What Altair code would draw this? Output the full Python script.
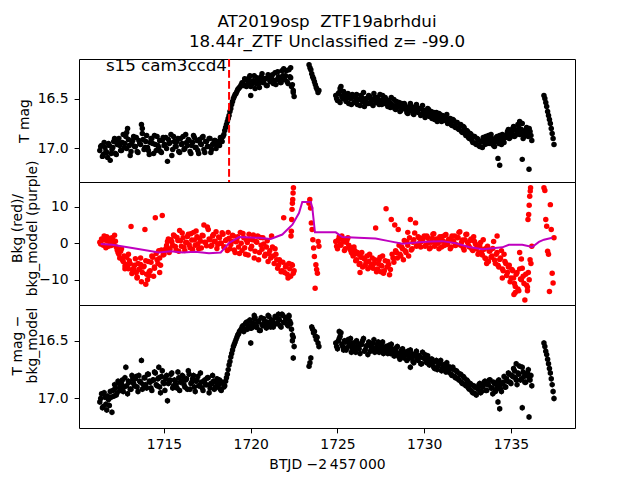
import altair as alt
import numpy as np
import pandas as pd

# ---------------- data ----------------
# Each light-curve segment: (start, end) time and the values along it.
# "A2"/"C2" lists are the interleaved second half of the cadences of segments A and C.

# Panel 1: T mag
MAG_A_SPAN = (1711.3, 1722.5)
MAG_A = [17.02, 16.97, 17.06, 16.99, 17.04, 16.95, 17.12, 17.01, 16.93, 17.05,
         16.96, 16.90, 17.02, 16.94, 16.99, 16.88, 16.80, 16.97, 17.03, 16.92,
         16.98, 16.89, 17.04, 16.95, 16.76, 16.91, 16.99, 16.87, 17.02, 16.94,
         16.90, 17.05, 16.96, 16.88, 16.99, 17.03, 16.92, 16.97, 16.89, 17.13,
         16.95, 16.86, 17.01, 16.93, 16.98, 16.90, 17.04, 16.96, 16.88, 17.00,
         16.94, 16.91, 17.03, 16.97, 16.87, 16.99, 16.92, 17.05, 16.95, 16.89,
         17.01, 16.93, 16.98, 16.90, 17.04, 16.96, 16.92, 17.00, 16.94, 16.97,
         16.91, 16.88, 16.82, 16.76, 16.70, 16.63, 16.56, 16.50, 16.46, 16.43,
         16.40, 16.38, 16.34, 16.37, 16.31, 16.36, 16.29, 16.38, 16.33, 16.27,
         16.35, 16.31, 16.39, 16.28, 16.34, 16.30, 16.37, 16.26, 16.32, 16.29,
         16.35, 16.24, 16.31, 16.28, 16.34, 16.22, 16.30, 16.27, 16.33, 16.21,
         16.29, 16.36, 16.48]
MAG_A2_SPAN = (1711.35, 1722.45)
MAG_A2 = [16.98, 17.08, 16.94, 17.03, 17.09, 16.97, 17.05,
          16.99, 16.90, 17.06, 16.93, 16.97, 17.02, 16.86, 16.95, 17.00, 16.91,
          17.07, 16.94, 16.88, 16.98, 17.03, 16.92, 16.96, 16.85, 17.01, 16.93,
          16.99, 17.06, 16.90, 16.95, 16.87, 17.02, 16.97, 16.92, 17.04, 16.89,
          16.96, 17.00, 16.91, 16.94, 17.07, 16.88, 16.98, 16.93, 17.03, 16.90,
          16.95, 17.01, 16.86, 16.97, 16.92, 17.05, 16.94, 16.89, 16.99, 17.02,
          16.91, 16.96, 16.88, 17.04, 16.93, 16.98, 16.90, 17.01, 16.95, 16.92,
          16.97, 16.93, 16.89,
          16.93, 16.86, 16.79, 16.73, 16.67, 16.60, 16.53, 16.48, 16.45, 16.41,
          16.39, 16.36, 16.35,
          16.30, 16.38, 16.33, 16.27, 16.36, 16.32, 16.40, 16.29, 16.35, 16.31,
          16.25, 16.34, 16.30, 16.37, 16.28, 16.33, 16.26, 16.32, 16.36, 16.23,
          16.30, 16.34, 16.27, 16.31, 16.22, 16.35, 16.28, 16.38, 16.44]
MAG_B_SPAN = (1723.36, 1723.93)
MAG_B = [16.16, 16.19, 16.21, 16.25, 16.28, 16.30, 16.33, 16.36, 16.39, 16.41, 16.44, 16.42]
MAG_C_SPAN = (1724.9, 1736.2)
MAG_C = [16.47, 16.52, 16.44, 16.38, 16.50, 16.46, 16.53, 16.45, 16.49, 16.56,
         16.48, 16.53, 16.46, 16.51, 16.57, 16.49, 16.44, 16.54, 16.50, 16.47,
         16.55, 16.51, 16.45, 16.53, 16.49, 16.56, 16.52, 16.47, 16.55, 16.51,
         16.58, 16.54, 16.49, 16.57, 16.60, 16.53, 16.58, 16.63, 16.55, 16.60,
         16.57, 16.64, 16.59, 16.55, 16.62, 16.66, 16.58, 16.63, 16.60, 16.67,
         16.57, 16.62, 16.65, 16.60, 16.68, 16.63, 16.66, 16.71, 16.64, 16.69,
         16.66, 16.73, 16.68, 16.71, 16.66, 16.74, 16.70, 16.77, 16.72, 16.79,
         16.74, 16.81, 16.76, 16.84, 16.79, 16.87, 16.83, 16.90, 16.86, 16.94,
         16.88, 16.96, 16.91, 16.98, 16.93, 16.89, 16.96, 16.92, 16.87, 16.95,
         16.90, 16.97, 16.93, 16.88, 16.95, 16.91, 16.86, 16.94, 16.89, 16.83,
         16.90, 16.85, 16.80, 16.88, 16.82, 16.76, 16.86, 16.81, 16.90, 16.84,
         16.79, 16.88, 16.83, 16.92]
MAG_C2_SPAN = (1724.95, 1736.15)
MAG_C2 = [16.50, 16.45, 16.54, 16.48, 16.43, 16.51, 16.47, 16.55, 16.50, 16.46,
          16.54, 16.49, 16.56, 16.51, 16.47, 16.53, 16.58, 16.50, 16.55, 16.48,
          16.52, 16.57, 16.49, 16.54, 16.51, 16.46, 16.56, 16.52, 16.49,
          16.55, 16.52, 16.59, 16.56, 16.51, 16.61, 16.57, 16.54, 16.62, 16.58,
          16.55, 16.61, 16.65,
          16.62, 16.58, 16.65, 16.61, 16.56, 16.64, 16.60, 16.66, 16.62, 16.69,
          16.64, 16.61,
          16.66, 16.70, 16.64, 16.68, 16.73, 16.65, 16.70, 16.67, 16.72, 16.69, 16.75,
          16.72, 16.76, 16.71, 16.78, 16.74, 16.80, 16.77, 16.83, 16.78, 16.85,
          16.82, 16.89, 16.85, 16.92, 16.88, 16.95, 16.90, 16.97, 16.93, 16.99,
          16.92, 16.88, 16.95, 16.90, 16.86, 16.94, 16.98, 16.89, 16.93, 16.87,
          16.96, 16.91, 16.88,
          16.86, 16.81, 16.89, 16.84, 16.78, 16.87, 16.83, 16.79, 16.85, 16.75,
          16.88, 16.82, 16.86, 16.80, 16.87]
MAG_D_SPAN = (1736.9, 1737.48)
MAG_D = [16.47, 16.50, 16.54, 16.58, 16.63, 16.67, 16.71, 16.75, 16.80, 16.85, 16.90, 16.96]
MAG_EXTRA_T = [1720.0, 1722.45, 1713.75, 1712.85, 1721.9, 1722.3,
               1734.25, 1734.35, 1735.65, 1736.04, 1735.5, 1725.15]
MAG_EXTRA = [16.47, 16.42, 16.80, 16.84, 16.20, 16.19,
             17.10, 17.17, 17.11, 17.21, 16.73, 16.40]

# Panel 2: background flux (red points) and background model (purple line)
BKG_A_SPAN = (1711.3, 1722.5)
BKG_A = [0.3, 1.2, -0.5, 0.9, 1.8, -0.8, 0.4, 1.5, -0.3, 0.6,
         -1.8, -3.0, -2.2, -4.5, -3.5, -5.8, -6.5, -4.8, 4.6, -7.5,
         -6.0, -8.0, -5.5, -7.0, -10.5, -6.5, 3.8, -8.5, -5.0, -7.5,
         -3.5, -9.0, 7.0, -4.5, -2.0, -6.0, 7.6, -3.0, -1.5, 0.5,
         -2.5, 1.0, -0.5, 2.0, -1.8, 0.8, 3.5, -0.8, 1.5, -2.0,
         0.3, 2.5, -1.2, 0.9, 3.0, -0.5, 1.8, -1.5, 0.6, 2.2,
         5.0, 0.2, 4.5, 1.2, -0.8, 2.0, 0.5, 3.2, -0.3, 1.5,
         0.0, 2.5, -1.0, 1.0, 3.0, -1.5, 0.5, 2.0, -2.5, 0.8,
         -1.0, 3.0, -2.0, 1.5, -3.0, 0.2, 2.5, -1.5, 1.0, -4.0,
         0.5, 2.0, -2.5, -0.5, 1.5, -3.5, -1.0, -5.0, -2.0, 2.0,
         -3.5, -1.5, -4.5, -6.0, -5.0, -7.5, 7.0, -6.5, -8.5, -5.5,
         -9.0, -6.0, -7.5]
BKG_A2_SPAN = (1711.35, 1722.45)
BKG_A2 = [-0.2, 1.0, 2.0, -1.2, 0.6, 1.3, -0.6, 0.9, 2.2, -1.0,
          -2.5, -4.0, -1.5, -5.0, -6.2, -3.8, -7.0, -5.5, -8.3, -6.8,
          -4.2, -9.2, -7.2, -5.8, -8.0, -6.3, -4.8, -10.0, -7.8, -5.2,
          -3.8, -6.8, -2.8, -5.5, -4.0, -1.8, -3.2, -2.0,
          -0.6, 1.2, -1.5, 0.4, 2.3, -0.9, 1.6, -2.2, 0.7, 2.8,
          -1.1, 0.2, 1.9, -0.4, 2.6, -1.7, 0.9, 3.4, -0.2, 1.3,
          -1.3, 2.1, 0.3, -0.7, 3.8, 1.0, -0.5, 2.4, 0.6, -1.4,
          1.7, 0.1, 2.9, -1.0, 0.8, -2.0, 1.4, -0.3, 2.2, -1.8,
          0.4, 1.8, -2.8, 0.0, 2.7, -1.2, 0.9, -3.2, 1.1, -0.8,
          2.3, -2.2, 0.3, -4.5, 1.6, -1.6, -0.2, -3.0, 0.7,
          -2.8, -4.0, -1.0, -5.5, -3.0, -6.8, -4.5, -7.8, -5.2, -8.0,
          -6.0, -9.5, -7.0, -5.8, -8.2]
BKG_B_SPAN = (1723.36, 1723.93)
BKG_B = [11.0, 12.0, 9.7, 5.6, 3.8, 1.0, -1.3, -3.6, -12.3, -5.9, -7.2, -8.2, 0.5, -0.8]
BKG_C_SPAN = (1724.9, 1736.2)
BKG_C = [0.5, -1.5, 1.8, -0.5, 1.0, -2.0, 0.3, 1.5, -1.0, -2.5,
         -3.5, -2.0, -4.5, -3.0, -5.5, -2.5, -4.0, -6.0, -3.5, -5.0,
         -6.5, -4.0, -5.5, 4.2, -7.0, -4.5, -6.0, -3.5, -7.5, 9.5,
         -5.0, -8.6, 6.5, -4.0, 5.0, -2.5, 3.8, -3.0, -1.0, -4.5,
         -2.0, 0.5, -3.5, 6.5, -1.5, 1.0, 5.6, -0.5, 1.5, -1.0,
         0.8, 2.0, -0.5, 1.5, -1.5, 0.3, 2.5, -0.8, 1.2, 0.0,
         1.8, -1.0, 0.6, 2.2, -0.3, 1.0, -1.5, 2.0, 0.4, -0.6,
         1.5, 3.0, -0.5, 0.9, -1.8, 2.4, 0.2, -1.0, 1.2, -2.0,
         0.5, -1.5, -3.0, -0.8, -2.5, 1.0, -4.0, -1.2, -5.0, -2.0,
         -3.5, 0.5, -5.5, -2.5, -6.5, -4.0, -7.0, -3.0, -5.5, -8.0,
         -6.0, -9.5, -7.5, -11.0, -8.5, -12.5, -7.0, -10.0, -9.0, -15.5,
         -11.5, -8.0, -4.5, -0.8]
BKG_C2_SPAN = (1724.95, 1736.15)
BKG_C2 = [-0.8, 1.0, -0.2, 2.0, 0.4, -1.5, 0.9, -0.5, -1.8, -2.8,
          -3.0, -4.8, -2.5, -5.8, -3.8, -6.5, -4.2, -5.2, -7.0, -3.0, -5.8,
          -6.8, -4.5, -7.8, -5.5, -3.8, -6.2, -8.2, -4.8, -6.5, -5.8, -7.2,
          -3.0, -5.2, -2.0, -4.0, -0.5, -3.5, -1.5, 0.8, -2.5, -0.5, 1.5,
          -1.8, 0.3, 2.8, -0.8, 1.8, 0.2,
          0.5, 1.5, -0.8, 2.0, 0.2, -1.2, 1.3, 2.6, -0.2, 1.0, -1.5, 0.6,
          1.9, -0.6, 2.4, 0.1, 1.2, -1.0, 0.7, 2.0, -0.4, 1.6, 3.2, 0.3,
          -1.2, 1.0, 2.5, -0.6, 0.8, -1.6, 1.8, -0.2,
          -1.0, -2.6, 0.2, -3.2, -1.6, -4.2, -0.8, -2.2, -3.8, -1.4, -4.6,
          -3.0, -6.0, -4.4, -2.0, -7.5, -5.0, -8.8, -6.5, -10.5, -7.2, -9.5,
          -11.8, -8.0, -13.0, -9.8, -6.8, -11.0, -8.5, -12.0, -10.0, -5.5]
BKG_D_SPAN = (1736.9, 1737.48)
BKG_D = [15.2, 14.5, 6.5, 4.7, -2.2, -3.0, -13.2, 10.6, 3.8, -8.2, -10.9, 1.5]
BKG_EXTRA_T = [1713.45, 1713.95, 1714.15, 1712.75, 1713.65, 1714.45, 1714.75, 1712.95,
               1722.32, 1722.34, 1722.36, 1722.38, 1722.40, 1722.42, 1722.44, 1722.46,
               1735.17, 1735.25, 1735.5, 1735.6, 1734.2, 1726.3, 1727.5, 1725.95,
               1729.05, 1733.6, 1734.5, 1735.95,
               1735.98, 1736.02, 1736.05, 1736.08, 1736.11, 1736.13]
BKG_EXTRA = [-9.5, -11.2, -8.8, -7.0, -4.0, -6.5, -8.0, -3.0,
             2.0, 3.3, 6.5, 9.3, 11.0, 12.0, 13.8, 15.2,
             -14.0, -13.5, -2.5, -4.3, 2.0, -8.0, -7.8, -1.0,
             3.0, -5.5, -9.5, -13.0,
             6.5, 7.9, 10.4, 12.9, 14.3, 15.2]
MODEL_T = [1711.35, 1712.02, 1713.17, 1714.71, 1715.40, 1716.06, 1716.80, 1717.59,
           1718.27, 1718.75, 1719.32, 1720.48, 1721.15, 1721.82, 1722.40, 1722.78,
           1722.97, 1723.46, 1723.55, 1723.70, 1724.90, 1725.28, 1726.20, 1727.20,
           1727.97, 1728.74, 1729.70, 1730.40, 1731.04, 1731.81, 1732.58, 1733.35,
           1734.50, 1734.88, 1735.65, 1736.23, 1736.61, 1736.90, 1737.38]
MODEL = [-0.2, -0.4, -1.3, -2.5, -2.2, -2.5, -2.3, -2.7,
         -2.5, 0.1, 1.7, 1.5, 1.2, 2.4, 5.1, 8.3,
         11.3, 11.3, 9.7, 3.0, 3.0, 1.7, 1.5, 1.3,
         0.6, -0.1, 0.3, 0.5, 0.6, 0.0, -1.0, -1.6,
         -1.1, -0.4, -0.4, -1.0, 0.4, 1.0, 1.5]

# Panel 3: T mag - bkg_model
COR_A_SPAN = (1711.3, 1722.5)
COR_A = [17.03, 16.96, 17.07, 16.99, 17.10, 17.01, 16.94, 17.12, 16.98, 16.91,
         16.95, 16.87, 16.93, 16.84, 16.90, 16.73, 16.96, 16.86, 16.92, 16.83,
         16.89, 16.81, 16.94, 16.85, 16.67, 16.88, 16.82, 16.91, 16.79, 16.86,
         16.93, 16.84, 16.78, 16.89, 16.82, 16.95, 16.76, 16.87, 16.83, 17.02,
         16.86, 16.79, 16.91, 16.84, 16.88, 16.77, 16.93, 16.85, 16.81, 16.90,
         16.83, 16.76, 16.92, 16.86, 16.80, 16.94, 16.84, 16.89, 16.78, 16.91,
         16.85, 16.88, 16.82, 16.95, 16.87, 16.80, 16.92, 16.86, 16.90, 16.84,
         16.93, 16.87, 16.89, 16.82, 16.75, 16.68, 16.61, 16.55, 16.51, 16.47,
         16.44, 16.41, 16.38, 16.42, 16.35, 16.40, 16.33, 16.39, 16.36, 16.31,
         16.38, 16.34, 16.41, 16.30, 16.37, 16.33, 16.39, 16.28, 16.36, 16.32,
         16.38, 16.29, 16.35, 16.31, 16.37, 16.27, 16.34, 16.30, 16.36, 16.28,
         16.35, 16.45, 16.55]
COR_A2_SPAN = (1711.35, 1722.45)
COR_A2 = [17.00, 17.08, 16.95, 17.05, 16.98, 17.06, 16.99,
          16.93, 16.88, 16.97, 16.85, 16.91, 16.87, 16.94, 16.82, 16.89, 16.85,
          16.92, 16.80,
          16.87, 16.83, 16.90, 16.80, 16.86, 16.92, 16.82, 16.88, 16.79, 16.85,
          16.91, 16.84, 16.77, 16.88, 16.83, 16.90, 16.81, 16.86, 16.93, 16.80,
          16.87, 16.84, 16.78, 16.89, 16.85, 16.91, 16.82, 16.86, 16.80, 16.88,
          16.84, 16.92, 16.79, 16.87, 16.83, 16.90, 16.85, 16.81, 16.89, 16.86,
          16.93, 16.84, 16.88, 16.82, 16.91, 16.87, 16.85, 16.90, 16.83, 16.88,
          16.92, 16.86, 16.90,
          16.85, 16.79, 16.71, 16.64, 16.58, 16.53, 16.49, 16.45, 16.42, 16.40,
          16.37,
          16.40, 16.34, 16.37, 16.32, 16.39, 16.35, 16.30, 16.38, 16.33, 16.41,
          16.36, 16.31, 16.37, 16.34, 16.29, 16.38, 16.33, 16.36, 16.30, 16.35,
          16.32, 16.38, 16.28, 16.34, 16.31, 16.37, 16.33, 16.40, 16.47]
COR_B_SPAN = (1723.36, 1723.93)
COR_B = [16.72, 16.69, 16.65, 16.38, 16.40, 16.43, 16.42, 16.46, 16.49, 16.47, 16.52, 16.55]
COR_C_SPAN = (1724.9, 1736.2)
COR_C = [16.52, 16.57, 16.48, 16.43, 16.55, 16.50, 16.58, 16.49, 16.54, 16.60,
         16.52, 16.57, 16.50, 16.55, 16.61, 16.53, 16.48, 16.58, 16.54, 16.51,
         16.59, 16.55, 16.49, 16.57, 16.53, 16.60, 16.56, 16.51, 16.59, 16.55,
         16.61, 16.57, 16.53, 16.60, 16.63, 16.56, 16.61, 16.66, 16.58, 16.63,
         16.60, 16.67, 16.62, 16.58, 16.65, 16.69, 16.61, 16.66, 16.63, 16.70,
         16.60, 16.65, 16.68, 16.63, 16.71, 16.66, 16.69, 16.74, 16.67, 16.72,
         16.69, 16.76, 16.71, 16.74, 16.69, 16.77, 16.73, 16.80, 16.75, 16.82,
         16.77, 16.84, 16.79, 16.87, 16.82, 16.89, 16.85, 16.92, 16.88, 16.95,
         16.90, 16.97, 16.92, 16.87, 16.94, 16.89, 16.85, 16.93, 16.88, 16.84,
         16.91, 16.86, 16.94, 16.89, 16.84, 16.92, 16.87, 16.81, 16.90, 16.85,
         16.79, 16.87, 16.81, 16.76, 16.84, 16.78, 16.72, 16.83, 16.77, 16.86,
         16.80, 16.75, 16.84, 16.89]
COR_C2_SPAN = (1724.95, 1736.15)
COR_C2 = [16.55, 16.50, 16.46, 16.53, 16.58, 16.51, 16.56, 16.52, 16.48, 16.57,
          16.55, 16.60, 16.52, 16.57, 16.53, 16.50, 16.59, 16.55, 16.62, 16.53,
          16.57, 16.52, 16.60, 16.56, 16.51, 16.58, 16.54, 16.61, 16.57,
          16.58, 16.54, 16.61, 16.57, 16.63, 16.59, 16.55, 16.64, 16.60, 16.57,
          16.65, 16.62, 16.59,
          16.65, 16.61, 16.68, 16.63, 16.59, 16.67, 16.64, 16.70, 16.65, 16.62,
          16.69, 16.66,
          16.70, 16.66, 16.73, 16.68, 16.75, 16.70, 16.67, 16.74, 16.71, 16.77, 16.72,
          16.75, 16.79, 16.73, 16.81, 16.76, 16.83, 16.79, 16.86, 16.81, 16.88,
          16.84, 16.91, 16.87, 16.94, 16.89, 16.96, 16.91, 16.88, 16.95, 16.90,
          16.86, 16.93, 16.88, 16.84, 16.91, 16.96, 16.87, 16.92, 16.85, 16.89,
          16.94, 16.86, 16.90,
          16.83, 16.78, 16.86, 16.80, 16.74, 16.82, 16.88, 16.79, 16.84, 16.73,
          16.81, 16.86, 16.78, 16.83, 16.80]
COR_D_SPAN = (1736.9, 1737.48)
COR_D = [16.52, 16.55, 16.59, 16.62, 16.66, 16.70, 16.74, 16.78, 16.83, 16.88, 16.94, 17.00]
COR_EXTRA_T = [1722.45, 1722.4, 1720.0, 1720.2, 1721.6, 1722.2, 1714.7,
               1734.25, 1734.35, 1735.65, 1736.04, 1725.1, 1729.2, 1735.3]
COR_EXTRA = [16.65, 16.50, 16.52, 16.28, 16.27, 16.29, 16.73,
             17.03, 17.09, 17.08, 17.16, 16.42, 16.73, 16.70]

MAG_ERR = 0.025
VLINE_T = 1718.75
SECTOR_LABEL = "s15 cam3ccd4"
LABEL_T, LABEL_MAG = 1711.65, 16.225
TITLE = ["AT2019osp\u00a0 ZTF19abrhdui", "18.44r_ZTF Unclassified z= -99.0"]
X_TICKS = [1715, 1720, 1725, 1730, 1735]


def build(segments, extra_t, extra_v):
    ts, vs = [], []
    for (t0, t1), vals in segments:
        ts += list(np.linspace(t0, t1, len(vals)))
        vs += list(vals)
    ts += list(extra_t)
    vs += list(extra_v)
    return pd.DataFrame({"t": ts, "v": vs})


df_mag = build([(MAG_A_SPAN, MAG_A), (MAG_A2_SPAN, MAG_A2), (MAG_B_SPAN, MAG_B),
                (MAG_C_SPAN, MAG_C), (MAG_C2_SPAN, MAG_C2), (MAG_D_SPAN, MAG_D)],
               MAG_EXTRA_T, MAG_EXTRA)
df_mag["lo"] = df_mag["v"] - MAG_ERR
df_mag["hi"] = df_mag["v"] + MAG_ERR
df_bkg = build([(BKG_A_SPAN, BKG_A), (BKG_A2_SPAN, BKG_A2), (BKG_B_SPAN, BKG_B),
                (BKG_C_SPAN, BKG_C), (BKG_C2_SPAN, BKG_C2), (BKG_D_SPAN, BKG_D)],
               BKG_EXTRA_T, BKG_EXTRA)
df_model = pd.DataFrame({"t": MODEL_T, "v": MODEL})
df_cor = build([(COR_A_SPAN, COR_A), (COR_A2_SPAN, COR_A2), (COR_B_SPAN, COR_B),
                (COR_C_SPAN, COR_C), (COR_C2_SPAN, COR_C2), (COR_D_SPAN, COR_D)],
               COR_EXTRA_T, COR_EXTRA)
df_cor["lo"] = df_cor["v"] - MAG_ERR
df_cor["hi"] = df_cor["v"] + MAG_ERR
df_vline = pd.DataFrame({"t": [VLINE_T]})
df_label = pd.DataFrame({"t": [LABEL_T], "v": [LABEL_MAG], "label": [SECTOR_LABEL]})

# ---------------- chart ----------------
FONT = "DejaVu Sans"
W, H = 496, 123
PT = 30
xscale = alt.Scale(domain=[1710.10, 1738.69], nice=False, zero=False)


def xenc(axis=None):
    return alt.X("t:Q", scale=xscale, axis=axis)


def yaxis(values, fmt, title, tx, ty):
    return alt.Axis(values=values, format=fmt, title=title, titleX=tx, titleY=ty,
                    titleAngle=270, titleAlign="center", titleBaseline="middle",
                    titleLineHeight=15)


# Panel 1
ys1 = alt.Scale(domain=[16.103, 17.337], reverse=True, nice=False, zero=False)
ax1 = yaxis([16.5, 17.0], ".1f", "T mag", -54.5, 61.5)
p1_err = alt.Chart(df_mag).mark_rule(color="black", strokeWidth=1, clip=True).encode(
    x=xenc(), y=alt.Y("lo:Q", scale=ys1, axis=ax1), y2="hi:Q")
p1_pts = alt.Chart(df_mag).mark_circle(size=PT, color="black", opacity=1, clip=True).encode(
    x=xenc(), y=alt.Y("v:Q", scale=ys1, axis=ax1))
p1_vl = alt.Chart(df_vline).mark_rule(color="red", strokeWidth=2, strokeDash=[7.7, 3.3]).encode(
    x=xenc())
p1_txt = alt.Chart(df_label).mark_text(align="left", baseline="alphabetic", font=FONT,
                                       fontSize=16.7, color="black").encode(
    x=xenc(), y=alt.Y("v:Q", scale=ys1, axis=ax1), text="label:N")
p1 = alt.layer(p1_err, p1_pts, p1_vl, p1_txt).properties(
    width=W, height=H,
    title=alt.TitleParams(text=TITLE, font=FONT, fontSize=16.7, fontWeight="normal",
                          color="black", anchor="middle", frame="group", lineHeight=20,
                          offset=7))

# Panel 2
ys2 = alt.Scale(domain=[-16.9, 16.8], nice=False, zero=False)
ax2 = yaxis([-10, 0, 10], "d", ["Bkg (red)/", "bkg_model (purple)"], -61.3, 46)
p2_pts = alt.Chart(df_bkg).mark_circle(size=PT, color="#ff0000", opacity=1, clip=True).encode(
    x=xenc(), y=alt.Y("v:Q", scale=ys2, axis=ax2))
p2_line = alt.Chart(df_model).mark_line(color="#bf00bf", strokeWidth=2, clip=True).encode(
    x=xenc(), y=alt.Y("v:Q", scale=ys2, axis=ax2))
p2 = alt.layer(p2_pts, p2_line).properties(width=W, height=H)

# Panel 3
ys3 = alt.Scale(domain=[16.19, 17.256], reverse=True, nice=False, zero=False)
ax3 = yaxis([16.5, 17.0], ".1f", ["T mag \u2212", "bkg_model" + "\u00a0" * 6], -61.3, 40)
xax = alt.Axis(values=X_TICKS, format="d", title="BTJD \u22122\u2009457\u2009000",
               labelPadding=5, titlePadding=6)
p3_err = alt.Chart(df_cor).mark_rule(color="black", strokeWidth=1, clip=True).encode(
    x=xenc(xax), y=alt.Y("lo:Q", scale=ys3, axis=ax3), y2="hi:Q")
p3_pts = alt.Chart(df_cor).mark_circle(size=PT, color="black", opacity=1, clip=True).encode(
    x=xenc(xax), y=alt.Y("v:Q", scale=ys3, axis=ax3))
p3 = alt.layer(p3_err, p3_pts).properties(width=W, height=H)

chart = alt.vconcat(p1, p2, p3, spacing=0, bounds="flush").properties(
    padding={"left": 2, "top": 5, "right": 5, "bottom": 5},
    background="white",
).configure_view(stroke="black", strokeWidth=1).configure_axis(
    grid=False, domain=False, ticks=True, tickColor="black", tickWidth=1, tickSize=4.9,
    labelFont=FONT, labelFontSize=13.9, labelColor="black", labelPadding=6,
    titleFont=FONT, titleFontSize=13.9, titleColor="black", titleFontWeight="normal",
)

chart.save("out.html", embed_options={"renderer": "svg", "actions": False})
